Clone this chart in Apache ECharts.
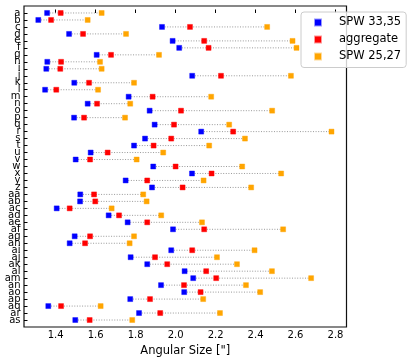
<!DOCTYPE html>
<html>
<head>
<meta charset="utf-8">
<script src="https://cdn.jsdelivr.net/npm/echarts@6/dist/echarts.min.js"></script>
<style>
	html, body { margin: 0; padding: 0; background: #fff; }
	#chart { width: 412px; height: 364px; }
</style>
</head>
<body>
<div id="chart"></div>
<script>
var cats = ['a','b','c','d','e','f','g','h','i','j','k','l','m','n','o','p','q','r','s','t','u','v','w','x','y','z',
	'aa','ab','ac','ad','ae','af','ag','ah','ai','aj','ak','al','am','an','ao','ap','aq','ar','as'];

var spw3335 = [1.357,1.313,1.932,1.467,1.985,2.018,1.605,1.358,1.353,2.083,1.493,1.347,1.765,1.560,1.870,1.492,1.895,2.128,1.847,1.792,1.575,1.500,1.888,2.082,1.750,1.882,
	1.523,1.522,1.405,1.665,1.760,1.987,1.495,1.470,1.978,1.775,1.858,2.045,2.088,1.927,2.043,1.773,1.363,1.817,1.498];
var aggregate = [1.425,1.377,2.072,1.537,2.143,2.165,1.677,1.427,1.423,2.227,1.567,1.403,1.885,1.607,2.027,1.542,1.992,2.288,1.978,1.890,1.660,1.572,2.000,2.180,1.858,2.035,
	1.592,1.598,1.470,1.717,1.858,2.143,1.572,1.547,2.083,1.897,1.958,2.153,2.203,2.042,2.125,1.872,1.427,1.923,1.570];
var spw2527 = [1.630,1.560,2.458,1.752,2.585,2.605,1.917,1.622,1.630,2.577,1.792,1.612,2.178,1.773,2.483,1.747,2.268,2.780,2.347,2.168,1.938,1.805,2.333,2.528,2.140,2.378,
	1.838,1.855,1.680,1.928,2.132,2.538,1.792,1.770,2.395,2.207,2.307,2.482,2.678,2.352,2.423,2.138,1.625,2.222,1.783];

var xTicks = [1.4,1.6,1.8,2.0,2.2,2.4,2.6,2.8];
var yTicks = cats.map(function(c, i){ return i; });
// label axis: one blank slot at each end so rows line up with the value axis (-1 .. 45)
var yLabels = [''].concat(cats, ['']);

function pts(arr){
	return arr.map(function(v, i){ return [v, i]; });
}

var spans = cats.map(function(c, i){
	var a = [spw3335[i], aggregate[i], spw2527[i]];
	return [i, Math.min.apply(null, a), Math.max.apply(null, a)];
});

function marker(name, color, halo, data){
	return {
		name: name,
		type: 'scatter',
		symbol: 'rect',
		symbolSize: 5,
		z: 3,
		itemStyle: { color: color, borderColor: halo, borderWidth: 1, opacity: 1 },
		emphasis: { disabled: true },
		data: data
	};
}

var myChart = echarts.init(document.getElementById('chart'));
var option = {
	animation: false,
	textStyle: { fontFamily: 'DejaVu Sans', color: '#000' },
	grid: {
		left: 24,
		right: 65.5,
		top: 6,
		bottom: 37,
		show: true,
		borderColor: '#111',
		borderWidth: 1.2,
		backgroundColor: 'transparent'
	},
	legend: {
		left: 301,
		top: 12,
		orient: 'vertical',
		icon: 'rect',
		itemWidth: 6,
		itemHeight: 6,
		itemGap: 3,
		padding: [3.5, 5, 4, 13],
		borderColor: '#ccc',
		borderWidth: 1,
		borderRadius: 3,
		backgroundColor: 'rgba(255,255,255,0.8)',
		data: ['SPW 33,35', 'aggregate', 'SPW 25,27'],
		textStyle: {
			fontSize: 11.5,
			lineHeight: 14,
			color: '#000',
			padding: [0, 0, 0, 13]
		}
	},
	xAxis: {
		type: 'value',
		min: 1.2415,
		max: 2.855,
		name: 'Angular Size ["]',
		nameLocation: 'middle',
		nameGap: 17,
		nameTextStyle: { fontSize: 11.5, color: '#000' },
		axisLine: { show: false },
		splitLine: { show: false },
		axisTick: {
			show: true,
			inside: true,
			length: 3.5,
			customValues: xTicks,
			lineStyle: { color: '#000', width: 1 }
		},
		axisLabel: {
			fontSize: 10,
			color: '#000',
			margin: 3,
			customValues: xTicks,
			formatter: function(v){ return v.toFixed(1); }
		}
	},
	yAxis: [
		{
			type: 'value',
			inverse: true,
			min: -1,
			max: 45,
			axisLine: { show: false },
			splitLine: { show: false },
			axisTick: {
				show: true,
				inside: true,
				length: 3.5,
				customValues: yTicks,
				lineStyle: { color: '#000', width: 1 }
			},
			axisLabel: { show: false }
		},
		{
			type: 'category',
			position: 'left',
			inverse: true,
			boundaryGap: false,
			data: yLabels,
			axisLine: { show: false },
			axisTick: { show: false },
			splitLine: { show: false },
			axisLabel: {
				interval: 0,
				fontSize: 10,
				color: '#000',
				margin: 3.5
			}
		}
	],
	series: [
		{
			name: 'span',
			type: 'custom',
			z: 1,
			silent: true,
			encode: { x: [1, 2], y: 0 },
			renderItem: function(params, api){
				var p1 = api.coord([api.value(1), api.value(0)]);
				var p2 = api.coord([api.value(2), api.value(0)]);
				return {
					type: 'line',
					shape: { x1: p1[0], y1: p1[1], x2: p2[0], y2: p2[1] },
					style: { stroke: '#999', lineWidth: 1, lineDash: [1, 1.6] }
				};
			},
			data: spans
		},
		marker('SPW 33,35', '#0000ff', 'rgba(0,0,255,0.4)', pts(spw3335)),
		marker('aggregate', '#ff0000', 'rgba(255,0,0,0.4)', pts(aggregate)),
		marker('SPW 25,27', '#ffa500', 'rgba(255,165,0,0.4)', pts(spw2527))
	]
};
myChart.setOption(option);
</script>
</body>
</html>
